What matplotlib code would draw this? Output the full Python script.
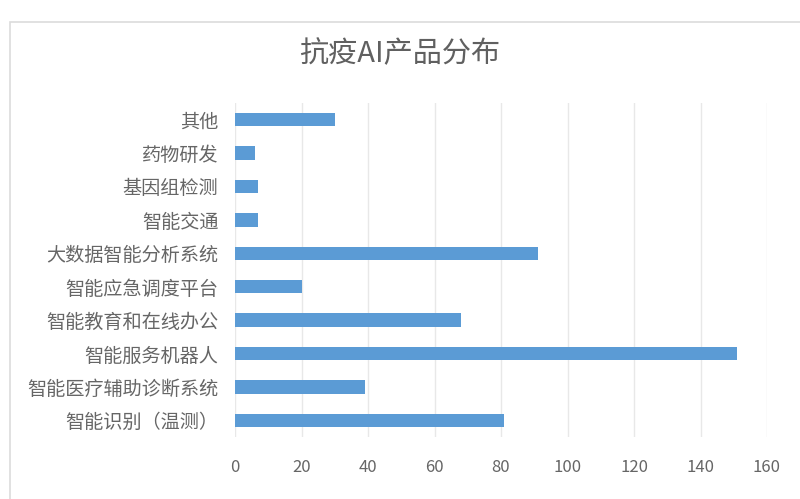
import matplotlib
matplotlib.use('Agg')
import matplotlib.pyplot as plt
from matplotlib.patches import Rectangle

plt.rcParams['font.family'] = ['Noto Sans CJK SC', 'DejaVu Sans']

categories = ['智能识别（温测）', '智能医疗辅助诊断系统', '智能服务机器人', '智能教育和在线办公',
              '智能应急调度平台', '大数据智能分析系统', '智能交通', '基因组检测', '药物研发', '其他']
values = [81, 39, 151, 68, 20, 91, 7, 7, 6, 30]
xticks = [0, 20, 40, 60, 80, 100, 120, 140, 160]

fig = plt.figure(figsize=(8, 4.99), dpi=100)
fig.patch.set_facecolor('white')

# outer chart frame (only left/top visible in the reference)
fig.patches.append(Rectangle((10 / 800, -0.01), 800 / 800, 477 / 499 + 0.01,
                             transform=fig.transFigure, fill=False,
                             edgecolor='#dcdcdc', linewidth=1.2))

ax = fig.add_axes([235 / 800, 62 / 499, 532 / 800, 334 / 499])
ax.barh(range(len(categories)), values, height=0.4, color='#5b9bd5', zorder=3)

ax.set_xlim(0, 160)
ax.set_ylim(-0.5, len(categories) - 0.5)
ax.set_xticks(xticks)
ax.set_yticks(range(len(categories)))
ax.set_yticklabels(categories)
ax.grid(axis='x', color='#e8e8e8', linewidth=1, zorder=0)
for s in ax.spines.values():
    s.set_visible(False)
ax.tick_params(axis='both', length=0, colors='#666666')
ax.tick_params(axis='x', labelsize=12, pad=16)
ax.tick_params(axis='y', labelsize=13.8, pad=12)

fig.text(0.5, 1 - 54 / 499, '抗疫AI产品分布', ha='center', va='center',
         fontsize=21, color='#606060')

fig.savefig('out.png', dpi=100)
